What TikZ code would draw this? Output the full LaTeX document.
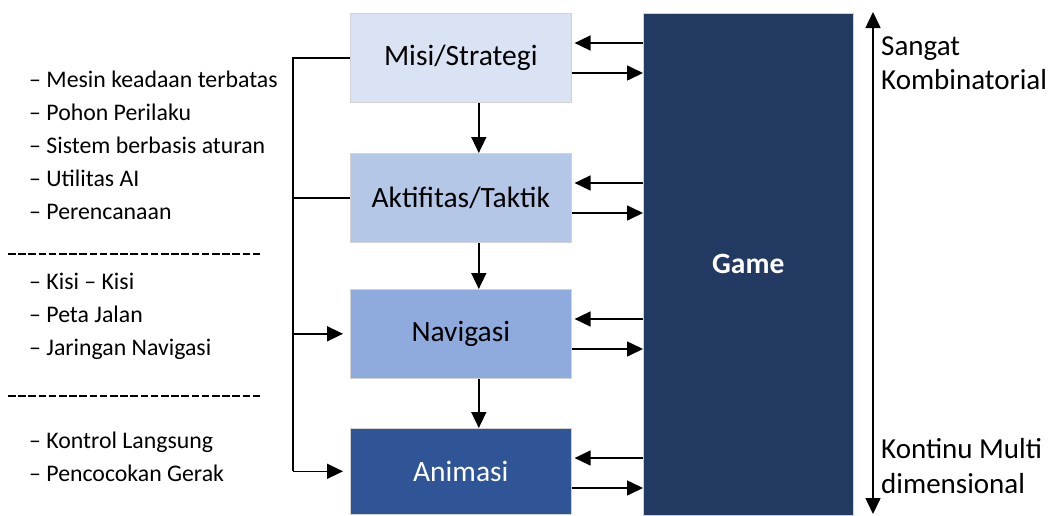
\documentclass[tikz,border=0pt]{standalone}
\usepackage{fontspec}
\setmainfont{Carlito}
\usepackage{tikz}
\usetikzlibrary{arrows.meta}
\usetikzlibrary{positioning}
\usetikzlibrary{calc}

\definecolor{misicol}{HTML}{DAE3F3}
\definecolor{aktcol}{HTML}{B4C7E7}
\definecolor{navcol}{HTML}{8FAADC}
\definecolor{animcol}{HTML}{2F5597}
\definecolor{gamecol}{HTML}{223962}

\begin{document}
\begin{tikzpicture}[x=1pt,y=-1pt,
        box/.style={draw=gray!35, line width=0.6pt, anchor=north west, inner sep=0pt,
            minimum width=221pt, minimum height=89pt, font=\fontsize{29.5}{34}\selectfont},
        ln/.style={line width=1.6pt},
        arr/.style={ln, -{Triangle[length=16pt,width=15pt]}},
        item/.style={anchor=base west, inner sep=0pt, font=\fontsize{23.8}{28}\selectfont},
        side/.style={anchor=base west, inner sep=0pt, font=\fontsize{29}{34}\selectfont},
        sepline/.style={line width=2.6pt, dash pattern=on 7.5pt off 2.7pt}]
    \useasboundingbox (0,0) rectangle (1051,515);

    % levels
    \node[box, fill=misicol] (misi) at (350,13) {Misi/Strategi};
    \node[box, fill=aktcol] (akt) at (350,153) {Aktifitas/Taktik};
    \node[box, fill=navcol] (nav) at (350,289) {Navigasi};
    \node[box, fill=animcol, text=white, minimum height=86pt] (anim) at (350,428) {Animasi};
    \node[box, fill=gamecol, text=white, font=\fontsize{29.5}{34}\selectfont\bfseries,
        minimum width=210pt, minimum height=502pt] (game) at (643,13) {Game};

    \draw[arr] ($(misi.south)+(18,0)$) -- ($(akt.north)+(18,0)$);
    \draw[arr] ($(akt.south)+(18,0)$) -- ($(nav.north)+(18,0)$);
    \draw[arr] ($(nav.south)+(18,0)$) -- ($(anim.north)+(18,0)$);

    % game <-> levels
    \foreach \b in {misi,akt,nav,anim} {
        \coordinate (\b-in) at ($(\b.north east)+(0,30)$);
        \coordinate (\b-out) at ($(\b.north east)+(0,60)$);
        \draw[arr, shorten >=3pt] (game.west |- \b-in) -- (\b-in);
        \draw[arr] (\b-out) -- (game.west |- \b-out);
    }

    % left bracket
    \coordinate (bus) at (293,0);
    \draw[ln] (misi.west) -- (misi.west -| bus) -- (anim.west -| bus);
    \draw[ln] (akt.west -| bus) -- (akt.west);
    \draw[arr, shorten >=7pt] (nav.west -| bus) -- (nav.west);
    \draw[arr, shorten >=7pt] (anim.west -| bus) -- (anim.west);

    % techniques
    \foreach \t/\y [count=\i] in {Mesin keadaan terbatas/87, Pohon Perilaku/120,
        Sistem berbasis aturan/153, Utilitas AI/186, Perencanaan/219,
        Kisi -- Kisi/289, Peta Jalan/322, Jaringan Navigasi/355,
        Kontrol Langsung/448, Pencocokan Gerak/481}
        \node[item] (it\i) at (29,\y) {-- \t};
    \draw[sepline] (8,254) -- (262,254);
    \draw[sepline] (8,396) -- (262,396);

    % scale
    \coordinate (top) at (873,12);
    \coordinate (bot) at (873,514);
    \draw[ln, {Triangle[length=16pt,width=15pt]}-{Triangle[length=16pt,width=15pt]}] (top) -- (bot);
    \node[side] (sangat) at (881,55) {Sangat};
    \node[side] (kombi) at (881,89) {Kombinatorial};
    \node[side] (kontinu) at (881,458) {Kontinu Multi};
    \node[side] (dimen) at (881,493) {dimensional};
\end{tikzpicture}
\end{document}
